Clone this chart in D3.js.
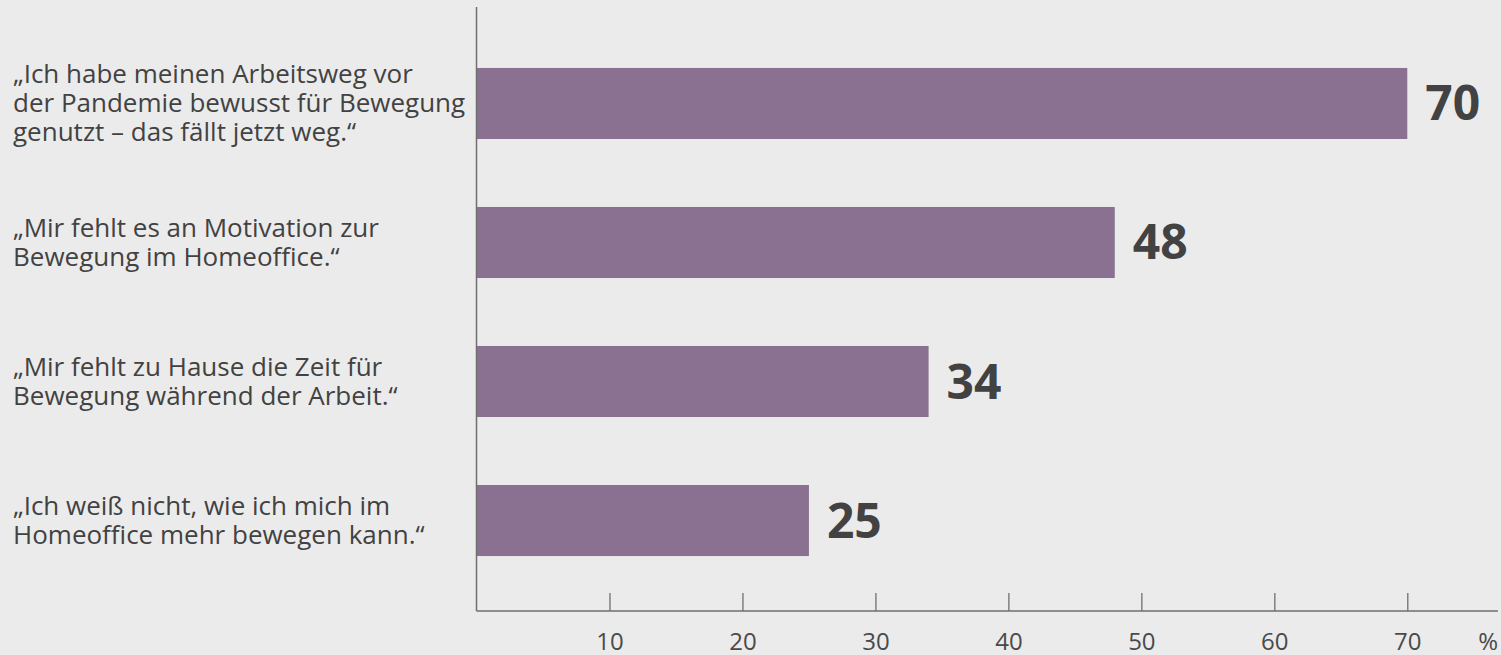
<!DOCTYPE html>
<html>
<head>
<meta charset="utf-8">
<script src="https://cdn.jsdelivr.net/npm/d3@7"></script>
<style>
  html, body { margin: 0; padding: 0; background: #ebebeb; }
  svg { display: block; }
</style>
</head>
<body>
<svg id="chart" width="1501" height="655"></svg>
<script>
// Statements (each split into its display lines) and share of respondents in %
const statements = [
  ["„Ich habe meinen Arbeitsweg vor", "der Pandemie bewusst für Bewegung", "genutzt – das fällt jetzt weg.“"],
  ["„Mir fehlt es an Motivation zur", "Bewegung im Homeoffice.“"],
  ["„Mir fehlt zu Hause die Zeit für", "Bewegung während der Arbeit.“"],
  ["„Ich weiß nicht, wie ich mich im", "Homeoffice mehr bewegen kann.“"]
];
const values = [70, 48, 34, 25];
const tickValues = [10, 20, 30, 40, 50, 60, 70];
const unitLabel = "%";

const svg = d3.select("#chart");
const font = "'Open Sans', 'Noto Sans', sans-serif";
const textColor = "#424242";
const barColor = "#8a7191";
const axisColor = "#6f6f6f";

const x0 = 476.5, axisY = 611, axisEnd = 1498;
const x = d3.scaleLinear().domain([0, 70]).range([x0, 1407.3]);
const keys = statements.map((d, i) => i);
const y = d3.scaleBand().domain(keys).range([0, 624]).paddingInner(0.489).paddingOuter(0.489);

// bars
svg.append("g").selectAll("rect").data(values).join("rect")
  .attr("x", x(0))
  .attr("y", (d, i) => y(i))
  .attr("width", d => x(d) - x(0))
  .attr("height", y.bandwidth())
  .attr("fill", barColor);

// value labels
svg.append("g").selectAll("text").data(values).join("text")
  .attr("x", d => x(d) + 18)
  .attr("y", (d, i) => y(i) + y.bandwidth() / 2 + 17)
  .attr("font-family", font)
  .attr("font-weight", 700)
  .attr("font-size", 48)
  .attr("fill", textColor)
  .text(d => d);

// category labels
const lineH = 29;
const lab = svg.append("g").selectAll("text").data(statements).join("text")
  .attr("font-family", font)
  .attr("font-size", 26)
  .attr("fill", textColor)
  .attr("x", 13)
  .attr("y", (d, i) => y(i) + y.bandwidth() / 2 + 9 - (d.length - 1) * lineH / 2);
lab.selectAll("tspan").data(d => d).join("tspan")
  .attr("x", 13)
  .attr("dy", (d, j) => j === 0 ? 0 : lineH)
  .text(d => d);

// x axis
const xAxis = d3.axisBottom(x).tickValues(tickValues).tickSize(0).tickPadding(0).tickSizeOuter(0);
const gx = svg.append("g").attr("transform", `translate(0,${axisY})`).call(xAxis);
gx.select(".domain").remove();
gx.selectAll(".tick line").attr("y1", -18).attr("y2", 0).attr("stroke", axisColor).attr("stroke-width", 1.3);
gx.selectAll(".tick text")
  .attr("y", 39)
  .attr("dy", null)
  .attr("font-family", font)
  .attr("font-size", 24)
  .attr("fill", "#4a4a4a");
gx.append("line").attr("x1", x0).attr("x2", axisEnd).attr("y1", 0).attr("y2", 0)
  .attr("stroke", axisColor).attr("stroke-width", 1.5);
gx.append("text")
  .attr("x", axisEnd).attr("y", 39)
  .attr("text-anchor", "end")
  .attr("font-family", font)
  .attr("font-size", 24)
  .attr("fill", "#4a4a4a")
  .text(unitLabel);

// vertical baseline
svg.append("line")
  .attr("x1", x0).attr("x2", x0).attr("y1", 7).attr("y2", axisY)
  .attr("stroke", axisColor).attr("stroke-width", 1.5);
</script>
</body>
</html>
